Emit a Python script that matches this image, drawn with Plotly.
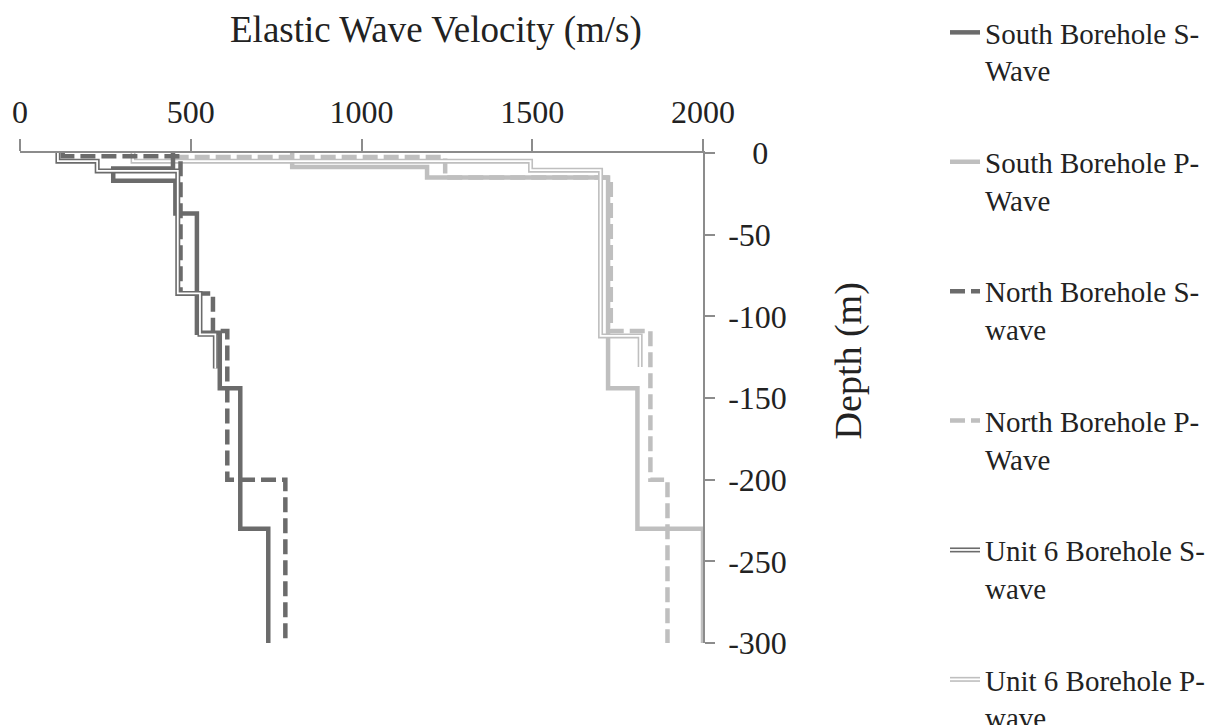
import plotly.graph_objects as go

# ---- data (velocity m/s, depth m) ----
south_s_v = [448, 448, 273, 273, 455, 455, 518, 518, 585, 585, 645, 645, 727, 727]
south_s_d = [0, -9.5, -9.5, -17, -17, -37, -37, -110, -110, -144, -144, -230, -230, -300]

south_p_v = [797, 797, 1192, 1192, 1722, 1722, 1808, 1808, 2000, 2000]
south_p_d = [0, -8.5, -8.5, -15, -15, -144, -144, -230, -230, -300]

north_s_v = [125, 125, 470, 470, 565, 565, 607, 607, 777, 777]
north_s_d = [0, -2, -2, -86, -86, -109, -109, -200, -200, -300]

north_p_v = [450, 1245, 1245, 1730, 1730, 1846, 1846, 1896, 1896]
north_p_d = [-2.5, -2.5, -15, -15, -109, -109, -200, -200, -300]

unit6_s_v = [111, 111, 226, 226, 462, 462, 527, 527, 572, 572]
unit6_s_d = [0, -5, -5, -11, -11, -86, -86, -111, -111, -132]

unit6_p_v = [331, 331, 1495, 1495, 1700, 1700, 1816, 1816]
unit6_p_d = [0, -5, -5, -10.5, -10.5, -112, -112, -131]

names = ["South Borehole S-<br>Wave", "South Borehole P-<br>Wave",
         "North Borehole S-<br>wave", "North Borehole P-<br>Wave",
         "Unit 6 Borehole S-<br>wave", "Unit 6 Borehole P-<br>wave"]

x_ticks = [0, 500, 1000, 1500, 2000]
y_ticks = [0, -50, -100, -150, -200, -250, -300]
y_ticktext = ["\u2002\u00a00", "-50", "-100", "-150", "-200", "-250", "-300"]

DARK = "#6b6b6b"
LIGHT = "#bfbfbf"
AXIS = "#8c8c8c"
TXT = "#222222"
FONT = "Liberation Serif"
FS = 29      # legend
TKS = 32     # tick labels
TFS = 37     # axis titles
DASH = "15px,6px"
BLANK = " <br> "

fig = go.Figure()

def add(v, d, name, color, width, rank, dash="solid"):
    fig.add_trace(go.Scatter(x=v, y=d, mode="lines", name=name, legendgroup="g%d" % rank,
                             legendrank=rank,
                             line=dict(color=color, width=width, dash=dash)))

def inner(v, d, rank):
    fig.add_trace(go.Scatter(x=v, y=d, mode="lines", name=BLANK, legend="legend2",
                             legendgroup="h%d" % rank, legendrank=rank,
                             line=dict(color="white", width=1.8)))

# drawing order: light P-waves beneath, dark S-waves on top
add(south_p_v, south_p_d, names[1], LIGHT, 4.5, 2)
add(north_p_v, north_p_d, names[3], LIGHT, 4.5, 4, DASH)
add(unit6_p_v, unit6_p_d, names[5], LIGHT, 5, 6)
inner(unit6_p_v, unit6_p_d, 6)
add(south_s_v, south_s_d, names[0], DARK, 4.5, 1)
add(north_s_v, north_s_d, names[2], DARK, 4.5, 3, DASH)
add(unit6_s_v, unit6_s_d, names[4], DARK, 5, 5)
inner(unit6_s_v, unit6_s_d, 5)

# placeholders so the overlay legend (white inner strokes) lines up
for r in [1, 2, 3, 4]:
    fig.add_trace(go.Scatter(x=[None], y=[None], mode="lines", name=BLANK,
                             legend="legend2", legendgroup="h%d" % r, legendrank=r,
                             line=dict(color="rgba(0,0,0,0)", width=1)))

leg = dict(x=945 / 1215, y=1 - 7 / 725, xref="container", yref="container",
           xanchor="left", yanchor="top", maxheight=800,
           traceorder="grouped", tracegroupgap=51, valign="top",
           bgcolor="rgba(0,0,0,0)", itemclick=False, itemdoubleclick=False)

fig.update_layout(
    width=1215, height=725,
    margin=dict(l=20, r=512, t=153, b=82, autoexpand=False),
    paper_bgcolor="white", plot_bgcolor="white",
    font=dict(family=FONT, size=FS, color=TXT),
    showlegend=True,
    legend=dict(**leg, font=dict(family=FONT, size=FS, color=TXT)),
    legend2=dict(**leg, font=dict(family=FONT, size=FS, color=TXT)),
    xaxis=dict(range=[0, 2000], side="top", tickvals=x_ticks, ticks="outside",
               ticklen=12, tickwidth=1.5, tickcolor=AXIS, showline=True,
               linecolor=AXIS, linewidth=1.5, showgrid=False, zeroline=False,
               ticklabelstandoff=3, tickfont=dict(family=FONT, size=TKS, color=TXT)),
    yaxis=dict(range=[-300, 0], side="right", tickvals=y_ticks, ticktext=y_ticktext,
               ticks="outside", ticklen=10, tickwidth=1.5, tickcolor=AXIS,
               showline=True, linecolor=AXIS, linewidth=1.5, showgrid=False,
               zeroline=False, ticklabelstandoff=7,
               tickfont=dict(family=FONT, size=TKS, color=TXT)),
    annotations=[
        dict(text="Elastic Wave Velocity (m/s)", xref="paper", yref="paper",
             x=(436 - 20) / 682.7, y=(643.3 - 30) / 490.6, xanchor="center",
             yanchor="middle", showarrow=False,
             font=dict(family=FONT, size=TFS, color=TXT)),
        dict(text="Depth (m)", xref="paper", yref="paper",
             x=(848 - 20) / 682.7, y=(643.3 - 361) / 490.6,
             xanchor="center", yanchor="middle", textangle=-90, showarrow=False,
             font=dict(family=FONT, size=TFS + 1, color=TXT)),
    ],
)

fig.write_html("out.html")
